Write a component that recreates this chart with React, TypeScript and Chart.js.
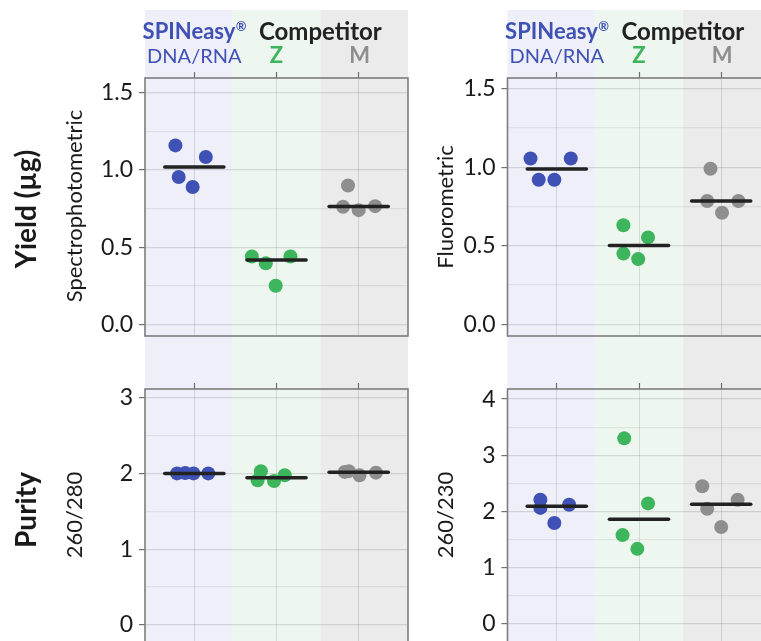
import React, { useEffect, useRef } from "react";
import { Chart, registerables } from "chart.js";

Chart.register(...registerables);

// ---------- data ----------
const groupNames = ["SPINeasy® DNA/RNA", "Competitor Z", "Competitor M"];
const groupColors = ["#3F51B5", "#3DB55C", "#8E8E8E"];
const bandColors = ["#EEEFF8", "#EEF7EF", "#EBEBEB"];

// jittered x positions (group index 1..3) and values for each panel
const spectroX = [
  [0.77, 1.14, 0.81, 0.98],
  [1.7, 1.87, 2.17, 1.99],
  [2.87, 2.81, 3.0, 3.2],
];
const spectroY = [
  [1.16, 1.085, 0.955, 0.89],
  [0.44, 0.395, 0.44, 0.25],
  [0.9, 0.762, 0.74, 0.766],
];

const fluoroX = [
  [0.68, 1.17, 0.78, 0.97],
  [1.81, 2.11, 1.81, 1.99],
  [2.87, 2.83, 3.21, 3.01],
];
const fluoroY = [
  [1.055, 1.055, 0.92, 0.92],
  [0.63, 0.553, 0.45, 0.415],
  [0.99, 0.785, 0.785, 0.71],
];

const ratio280X = [
  [0.79, 0.89, 0.99, 1.17],
  [1.81, 1.77, 1.97, 2.1],
  [2.83, 2.88, 3.01, 3.21],
];
const ratio280Y = [
  [2.0, 2.005, 2.0, 2.0],
  [2.03, 1.91, 1.9, 1.975],
  [2.02, 2.03, 1.975, 2.01],
];

const ratio230X = [
  [0.8, 0.8, 1.15, 0.97],
  [1.82, 2.11, 1.8, 1.98],
  [2.77, 3.2, 2.83, 3.0],
];
const ratio230Y = [
  [2.205, 2.06, 2.115, 1.79],
  [3.3, 2.14, 1.575, 1.33],
  [2.445, 2.205, 2.045, 1.72],
];

// tick values
const yieldTicks = [0, 0.5, 1.0, 1.5];
const yieldMinorTicks = [0.25, 0.75, 1.25];
const ratio280Ticks = [0, 1, 2, 3];
const ratio280MinorTicks = [0.5, 1.5, 2.5];
const ratio230Ticks = [0, 1, 2, 3, 4];
const ratio230MinorTicks = [0.5, 1.5, 2.5, 3.5];
const groupTicks = [1, 2, 3];

// ---------- layout ----------
const FONT = "Lato, 'Open Sans', sans-serif";
const Y_AXIS_W = 60;
const X_AXIS_H = 6;

type PanelCfg = {
  left: number;
  top: number;
  width: number;
  height: number;
  area: { left: number; top: number; right: number; bottom: number };
  yMin: number;
  yMax: number;
  major: number[];
  minor: number[];
  decimals: number;
  xs: number[][];
  ys: number[][];
  bandTop: number;
  header: boolean;
  bigTitle?: { text: string; x: number; y: number };
  subTitle: { text: string; x: number; y: number };
};

const panels: PanelCfg[] = [
  {
    left: 0, top: 0, width: 420, height: 362,
    area: { left: 145, top: 78, right: 408, bottom: 336 },
    yMin: -0.076, yMax: 1.597,
    major: yieldTicks, minor: yieldMinorTicks, decimals: 1,
    xs: spectroX, ys: spectroY, bandTop: 10, header: true,
    bigTitle: { text: "Yield (µg)", x: 27, y: 209 },
    subTitle: { text: "Spectrophotometric", x: 75, y: 206 },
  },
  {
    left: 420, top: 0, width: 380, height: 362,
    area: { left: 87.5, top: 78, right: 350.5, bottom: 336 },
    yMin: -0.074, yMax: 1.567,
    major: yieldTicks, minor: yieldMinorTicks, decimals: 1,
    xs: fluoroX, ys: fluoroY, bandTop: 10, header: true,
    subTitle: { text: "Fluorometric", x: 26, y: 207 },
  },
  {
    left: 0, top: 362, width: 420, height: 300,
    area: { left: 145, top: 27, right: 408, bottom: 283 },
    yMin: -0.228, yMax: 3.114,
    major: ratio280Ticks, minor: ratio280MinorTicks, decimals: 0,
    xs: ratio280X, ys: ratio280Y, bandTop: 0, header: false,
    bigTitle: { text: "Purity", x: 27, y: 148 },
    subTitle: { text: "260/280", x: 75, y: 153 },
  },
  {
    left: 420, top: 362, width: 380, height: 300,
    area: { left: 87.5, top: 27, right: 350.5, bottom: 283 },
    yMin: -0.335, yMax: 4.18,
    major: ratio230Ticks, minor: ratio230MinorTicks, decimals: 0,
    xs: ratio230X, ys: ratio230Y, bandTop: 0, header: false,
    subTitle: { text: "260/230", x: 26, y: 153 },
  },
];

function median(v: number[]): number {
  const s = [...v].sort((a, b) => a - b);
  const m = Math.floor(s.length / 2);
  return s.length % 2 ? s[m] : (s[m - 1] + s[m]) / 2;
}

function rotatedText(ctx: CanvasRenderingContext2D, text: string, x: number, y: number, font: string, color: string) {
  ctx.save();
  ctx.translate(x, y);
  ctx.rotate(-Math.PI / 2);
  ctx.font = font;
  ctx.fillStyle = color;
  ctx.textAlign = "center";
  ctx.textBaseline = "middle";
  ctx.fillText(text, 0, 0);
  ctx.restore();
}

function makeDecor(cfg: PanelCfg) {
  return {
    id: "decor",
    beforeDraw(chart: any) {
      const { ctx, chartArea } = chart;
      const w = (chartArea.right - chartArea.left) / 3;
      ctx.save();
      for (let g = 0; g < 3; g++) {
        ctx.fillStyle = bandColors[g];
        ctx.fillRect(chartArea.left + g * w, cfg.bandTop, w, chart.height - cfg.bandTop);
      }
      ctx.restore();
    },
    afterDraw(chart: any) {
      const { ctx, chartArea } = chart;
      const xs = chart.scales.x;
      ctx.save();
      ctx.strokeStyle = "#7D7D7D";
      ctx.lineWidth = 1.6;
      ctx.strokeRect(chartArea.left, chartArea.top, chartArea.right - chartArea.left, chartArea.bottom - chartArea.top);
      ctx.restore();

      if (cfg.bigTitle) {
        rotatedText(ctx, cfg.bigTitle.text, cfg.bigTitle.x, cfg.bigTitle.y, `bold 28px ${FONT}`, "#1A1A1A");
      }
      rotatedText(ctx, cfg.subTitle.text, cfg.subTitle.x, cfg.subTitle.y, `22px ${FONT}`, "#1A1A1A");

      if (cfg.header) {
        ctx.save();
        ctx.textBaseline = "alphabetic";
        // SPINeasy® / DNA/RNA
        const c1 = xs.getPixelForValue(1);
        const mainFont = `bold 22px ${FONT}`;
        const supFont = `bold 13px ${FONT}`;
        ctx.font = mainFont;
        const w1 = ctx.measureText("SPINeasy").width;
        ctx.font = supFont;
        const w2 = ctx.measureText("®").width;
        const sx = c1 - (w1 + w2) / 2;
        ctx.fillStyle = groupColors[0];
        ctx.textAlign = "left";
        ctx.font = mainFont;
        ctx.fillText("SPINeasy", sx, 39);
        ctx.font = supFont;
        ctx.fillText("®", sx + w1 + 0.5, 31);
        ctx.textAlign = "center";
        ctx.font = `20px ${FONT}`;
        ctx.fillText("DNA/RNA", c1, 63);
        // Competitor
        const cc = chartArea.left + ((chartArea.right - chartArea.left) * 2) / 3;
        ctx.fillStyle = "#222222";
        ctx.font = `bold 24px ${FONT}`;
        ctx.fillText("Competitor", cc, 40);
        ctx.font = `bold 22px ${FONT}`;
        ctx.fillStyle = groupColors[1];
        ctx.fillText("Z", xs.getPixelForValue(2), 63);
        ctx.fillStyle = groupColors[2];
        ctx.fillText("M", xs.getPixelForValue(3) + 1, 63);
        ctx.restore();
      }
    },
  };
}

function Panel({ cfg }: { cfg: PanelCfg }) {
  const ref = useRef<HTMLCanvasElement>(null);
  useEffect(() => {
    const canvas = ref.current;
    if (!canvas) return;
    const a = cfg.area;
    const allTicks = [...cfg.major, ...cfg.minor].sort((p, q) => p - q);
    const isMajor = (v: number) => cfg.major.some((m) => Math.abs(m - v) < 1e-9);
    const datasets: any[] = [];
    for (let g = 0; g < 3; g++) {
      const ys = cfg.ys[g];
      const med = median(ys);
      datasets.push({
        label: groupNames[g] + " median",
        data: [
          { x: g + 1 - 0.36, y: med },
          { x: g + 1 + 0.36, y: med },
        ],
        showLine: true,
        borderColor: "#222222",
        borderWidth: 3.5,
        borderCapStyle: "round",
        pointRadius: 0,
        order: 1,
      });
      datasets.push({
        label: groupNames[g],
        data: ys.map((y, i) => ({ x: cfg.xs[g][i], y })),
        backgroundColor: groupColors[g],
        borderWidth: 0,
        pointRadius: 7,
        pointBorderWidth: 0,
        order: 2,
      });
    }
    const chart = new Chart(canvas, {
      type: "scatter",
      data: { datasets },
      options: {
        animation: false,
        responsive: false,
        devicePixelRatio: 1,
        events: [],
        layout: {
          padding: {
            left: a.left - Y_AXIS_W,
            top: a.top - X_AXIS_H,
            right: cfg.width - a.right,
            bottom: cfg.height - a.bottom,
          },
        },
        plugins: { legend: { display: false }, tooltip: { enabled: false }, title: { display: false } },
        scales: {
          x: {
            type: "linear",
            position: "top",
            min: 0.4,
            max: 3.6,
            afterBuildTicks: (s: any) => {
              s.ticks = groupTicks.map((v) => ({ value: v }));
            },
            afterFit: (s: any) => {
              s.height = X_AXIS_H;
            },
            ticks: { display: false },
            border: { display: false },
            grid: {
              color: "rgba(0,0,0,0.11)",
              lineWidth: 1,
              drawTicks: true,
              tickLength: X_AXIS_H,
              tickColor: "#6E6E6E",
              tickWidth: 1.2,
            },
          },
          y: {
            type: "linear",
            position: "left",
            min: cfg.yMin,
            max: cfg.yMax,
            afterBuildTicks: (s: any) => {
              s.ticks = allTicks.map((v) => ({ value: v }));
            },
            afterFit: (s: any) => {
              s.width = Y_AXIS_W;
            },
            border: { display: false },
            ticks: {
              autoSkip: false,
              padding: 6,
              color: "#1A1A1A",
              font: { family: FONT, size: 23 },
              callback: (v: any) => (isMajor(Number(v)) ? Number(v).toFixed(cfg.decimals) : ""),
            },
            grid: {
              color: (ctx: any) => (isMajor(ctx.tick.value) ? "rgba(0,0,0,0.12)" : "rgba(0,0,0,0.07)"),
              lineWidth: 1.2,
              drawTicks: true,
              tickLength: 6,
              tickColor: (ctx: any) => (isMajor(ctx.tick.value) ? "#6E6E6E" : "rgba(0,0,0,0)"),
              tickWidth: 1.2,
            },
          },
        },
      },
      plugins: [makeDecor(cfg)],
    } as any);
    return () => chart.destroy();
  }, [cfg]);
  return (
    <canvas
      ref={ref}
      width={cfg.width}
      height={cfg.height}
      style={{ position: "absolute", left: cfg.left, top: cfg.top, width: cfg.width, height: cfg.height }}
    />
  );
}

export default function App() {
  return (
    <div
      style={{
        position: "absolute",
        left: 0,
        top: 0,
        width: 761,
        height: 641,
        overflow: "hidden",
        background: "#FFFFFF",
      }}
    >
      {panels.map((p, i) => (
        <Panel key={i} cfg={p} />
      ))}
    </div>
  );
}
